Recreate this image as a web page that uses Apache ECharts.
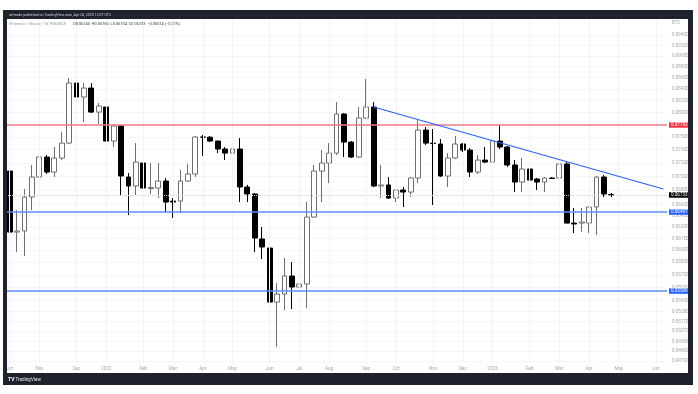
<!DOCTYPE html>
<html><head><meta charset="utf-8">
<script src="https://cdn.jsdelivr.net/npm/echarts@6/dist/echarts.min.js"></script>
<style>html,body{margin:0;padding:0;background:#fff}#c{width:698px;height:394px}</style>
</head><body><div id="c"></div>
<script>
// weekly bars (Monday dates); last 7 are empty future weeks
const weeks = [
'2021-10-04','2021-10-11','2021-10-18','2021-10-25','2021-11-01','2021-11-08','2021-11-15','2021-11-22','2021-11-29',
'2021-12-06','2021-12-13','2021-12-20','2021-12-27',
'2022-01-03','2022-01-10','2022-01-17','2022-01-24','2022-01-31','2022-02-07','2022-02-14','2022-02-21','2022-02-28',
'2022-03-07','2022-03-14','2022-03-21','2022-03-28','2022-04-04','2022-04-11','2022-04-18','2022-04-25',
'2022-05-02','2022-05-09','2022-05-16','2022-05-23','2022-05-30','2022-06-06','2022-06-13','2022-06-20','2022-06-27',
'2022-07-04','2022-07-11','2022-07-18','2022-07-25','2022-08-01','2022-08-08','2022-08-15','2022-08-22','2022-08-29',
'2022-09-05','2022-09-12','2022-09-19','2022-09-26','2022-10-03','2022-10-10','2022-10-17','2022-10-24','2022-10-31',
'2022-11-07','2022-11-14','2022-11-21','2022-11-28','2022-12-05','2022-12-12','2022-12-19','2022-12-26',
'2023-01-02','2023-01-09','2023-01-16','2023-01-23','2023-01-30','2023-02-06','2023-02-13','2023-02-20','2023-02-27',
'2023-03-06','2023-03-13','2023-03-20','2023-03-27','2023-04-03','2023-04-10','2023-04-17','2023-04-24',
'2023-05-01','2023-05-08','2023-05-15','2023-05-22','2023-05-29','2023-06-05','2023-06-12'
];
const opens = [
0.07078,0.06231,0.06245,0.06704,0.06990,0.07288,0.07063,0.07273,0.07503,0.08505,
0.08261,0.08417,0.08005,0.08090,0.07535,0.07776,0.06990,0.06860,0.07197,0.06824,
0.06831,0.06932,0.06648,0.06648,0.06932,0.07034,0.07599,0.07596,0.07535,0.07411,
0.07348,0.07411,0.06846,0.06747,0.06141,0.06027,0.05384,0.05475,0.05685,0.05556,
0.05591,0.06430,0.07078,0.07197,0.07348,0.07973,0.07519,0.07288,0.07906,0.08090,
0.06860,0.06875,0.06690,0.06803,0.06774,0.06976,0.07710,0.07503,0.07489,0.07005,
0.07273,0.07489,0.07395,0.07063,0.07242,0.07212,0.07535,0.07442,0.07168,0.06917,
0.07108,0.06961,0.06917,0.06976,0.06976,0.07183,0.06349,0.06349,0.06349,0.06566,
0.06990,0.06740];
const highs = [
0.07108,0.06525,0.06817,0.07168,0.07503,0.07319,0.07442,0.07678,0.08595,0.08850,
0.08505,0.08505,0.08157,0.08295,0.07808,0.07792,0.07048,0.07503,0.07348,0.07197,
0.07197,0.06976,0.06690,0.07093,0.07183,0.07615,0.07631,0.07615,0.07540,0.07442,
0.07567,0.07583,0.06875,0.06760,0.06297,0.06090,0.05602,0.05903,0.05853,0.05638,
0.06634,0.07168,0.07395,0.07503,0.08174,0.07988,0.07535,0.08090,0.08577,0.08174,
0.07168,0.06990,0.06803,0.06846,0.06990,0.07873,0.07759,0.07727,0.07567,0.07348,
0.07615,0.07503,0.07426,0.07319,0.07442,0.07567,0.07792,0.07458,0.07242,0.07273,
0.07123,0.06976,0.06990,0.06990,0.07364,0.07212,0.06552,0.06552,0.06570,0.07005,
0.07020,0.06760];
const lows = [
0.06218,0.05977,0.05927,0.06525,0.06917,0.07034,0.06990,0.07242,0.07489,0.08124,
0.07840,0.07988,0.07808,0.07364,0.07442,0.06733,0.06457,0.06733,0.06774,0.06747,
0.06690,0.06497,0.06417,0.06483,0.06917,0.06990,0.07304,0.07519,0.07348,0.07242,
0.07334,0.06634,0.06634,0.05977,0.05890,0.05219,0.04902,0.05295,0.05306,0.05464,
0.05318,0.06417,0.06634,0.06902,0.07319,0.07288,0.07273,0.07273,0.07890,0.06846,
0.06690,0.06676,0.06634,0.06566,0.06704,0.06902,0.07473,0.06593,0.06990,0.06846,
0.07258,0.07364,0.06990,0.07034,0.07197,0.07197,0.07411,0.07138,0.06774,0.06774,
0.06917,0.06803,0.06774,0.06961,0.06961,0.06346,0.06218,0.06231,0.06218,0.06193,
0.06704,0.06704];
const closes = [
0.06231,0.06245,0.06704,0.06990,0.07288,0.07063,0.07273,0.07503,0.08505,0.08261,
0.08417,0.08005,0.08107,0.07535,0.07776,0.07005,0.06860,0.07212,0.06831,0.06839,
0.06932,0.06634,0.06634,0.06932,0.07034,0.07599,0.07596,0.07535,0.07411,0.07348,
0.07411,0.06846,0.06747,0.06154,0.06040,0.05384,0.05475,0.05685,0.05556,0.05591,
0.06430,0.07078,0.07197,0.07348,0.07973,0.07519,0.07288,0.07906,0.08090,0.06860,
0.06875,0.06690,0.06803,0.06774,0.06976,0.07710,0.07503,0.07496,0.07005,0.07273,
0.07489,0.07395,0.07063,0.07242,0.07212,0.07535,0.07442,0.07168,0.06917,0.07108,
0.06946,0.06917,0.06976,0.06968,0.07183,0.06349,0.06337,0.06363,0.06566,0.06990,
0.06747,0.06733];
const priceTicks = [0.094,0.092,0.090,0.088,0.086,0.084,0.082,0.080,0.076,0.074,0.072,0.070,0.068,0.066,
0.0645,0.063,0.0615,0.060,0.0585,0.057,0.0555,0.054,0.0528,0.0517,0.0507,0.0496,0.0486,0.0476];
const resistanceLevel = 0.07792;
const supportLevels = [0.06497, 0.05509];
const lastPrice = 0.06733;
const trendStart = ['2022-09-12', 0.08090];
const trendEnd = ['2023-06-12', 0.06817];
const monthAbbr = ['Jan','Feb','Mar','Apr','May','Jun','Jul','Aug','Sep','Oct','Nov','Dec'];

function monthLabel(d){
  const p = d.split('-').map(Number);
  if (p[2] > 7) return '';
  return p[1] === 1 ? String(p[0]) : monthAbbr[p[1]-1];
}
const candleData = weeks.map((w,i) => i < opens.length ? [opens[i], closes[i], lows[i], highs[i]] : '-');
const monthStarts = weeks.filter(w => monthLabel(w) !== '');
const FONT = 'Roboto, "Noto Sans", sans-serif';
const lblStyle = (bg) => ({show:true, position:'end', distance:2, formatter:(p)=>Number(p.value).toFixed(5),
  color:'#fff', backgroundColor:bg, padding:[0.5,2,0,2], fontSize:4.6, fontFamily:FONT});
const hLine = (val, color, width, type, bg) => ({yAxis:val, lineStyle:{color:color, width:width, type:type, opacity:1}, itemStyle:{color:color}, label:lblStyle(bg)});

const chart = echarts.init(document.getElementById('c'), null, {renderer:'canvas'});
chart.setOption({
  animation:false,
  backgroundColor:'#ffffff',
  grid:{left:6, right:31, top:19, bottom:31},
  xAxis:{type:'category', data:weeks, boundaryGap:true,
    axisLine:{show:false}, axisTick:{show:false}, splitLine:{show:false},
    axisLabel:{interval:(i,v)=>monthLabel(v)!=='', formatter:(v)=>monthLabel(v), color:'#a3a6ae', fontSize:4.6, fontFamily:FONT, margin:3}},
  yAxis:{type:'log', logBase:10, position:'right', min:0.04741, max:0.09722, scale:true,
    axisLine:{show:false}, axisTick:{show:false, customValues:priceTicks},
    splitLine:{show:true, lineStyle:{color:'#f5f6f8', width:1}},
    axisLabel:{customValues:priceTicks, formatter:(v)=>Number(v).toFixed(5), color:'#a3a6ae', fontSize:4.6, fontFamily:FONT, margin:5, align:'left'}},
  series:[
    {type:'line', name:'grid', data:weeks.map(()=> '-'), z:1, silent:true, showSymbol:false,
     markLine:{silent:true, symbol:['none','none'], label:{show:false}, animation:false,
       lineStyle:{color:'#f2f3f5', width:1, type:'solid'},
       data: monthStarts.map(w => ({xAxis:w}))}},
    {type:'candlestick', name:'ETHBTC', data:candleData, barWidth:'72%', z:3,
     itemStyle:{color:'#ffffff', color0:'#000000', borderColor:'#6f6f6f', borderColor0:'#000000', borderWidth:1}},
    {type:'line', name:'levels', data:weeks.map(()=> '-'), z:5, silent:true, showSymbol:false,
     markLine:{silent:true, symbol:['none','none'], animation:false, precision:5,
       data:[
         hLine(lastPrice, '#cdd0d5', 1, 'dotted', '#000000'),
         hLine(resistanceLevel, '#f27a83', 1.5, 'solid', '#f23645'),
         hLine(supportLevels[0], '#5b8cff', 1.6, 'solid', '#2962ff'),
         hLine(supportLevels[1], '#5b8cff', 1.6, 'solid', '#2962ff'),
         [{coord:trendStart, lineStyle:{color:'#2962ff', width:1.2, type:'solid'}, label:{show:false}}, {coord:trendEnd}]
       ]}}
  ],
  graphic:[
    {type:'rect', z:100, shape:{x:3, y:10, width:690, height:9}, style:{fill:'#1e222d'}},
    {type:'rect', z:100, shape:{x:3, y:373, width:690, height:12}, style:{fill:'#1e222d'}},
    {type:'rect', z:100, shape:{x:3, y:10, width:4, height:375}, style:{fill:'#1e222d'}},
    {type:'rect', z:100, shape:{x:688, y:10, width:5, height:375}, style:{fill:'#1e222d'}},
    {type:'text', z:101, x:9, y:14.8, style:{text:'ah-trade published on TradingView.com, Apr 24, 2023 12:37 UTC', fill:'#d1d4dc', fontSize:3.6, fontFamily:FONT, verticalAlign:'middle'}},
    {type:'text', z:101, x:9, y:24, style:{
      text:'{g|Ethereum / Bitcoin, 1W, BINANCE}  {v|O0.06740  H0.06760  L0.06704  C0.06733  −0.00014 (−0.21%)}',
      rich:{g:{fill:'#9a9ea8', fontSize:3.9, fontFamily:FONT}, v:{fill:'#3a3d45', fontSize:3.9, fontFamily:FONT}},
      verticalAlign:'middle'}},
    {type:'text', z:101, x:672, y:22.5, style:{text:'BTC', fill:'#a3a6ae', fontSize:4.6, fontFamily:FONT, verticalAlign:'middle'}},
    {type:'text', z:101, x:8, y:379.5, style:{text:'{b|TV} TradingView', rich:{b:{fill:'#ffffff', fontWeight:'bold', fontSize:5, fontFamily:FONT}}, fill:'#e8e8ea', fontSize:4.6, fontFamily:FONT, verticalAlign:'middle'}}
  ]
});
</script></body></html>
